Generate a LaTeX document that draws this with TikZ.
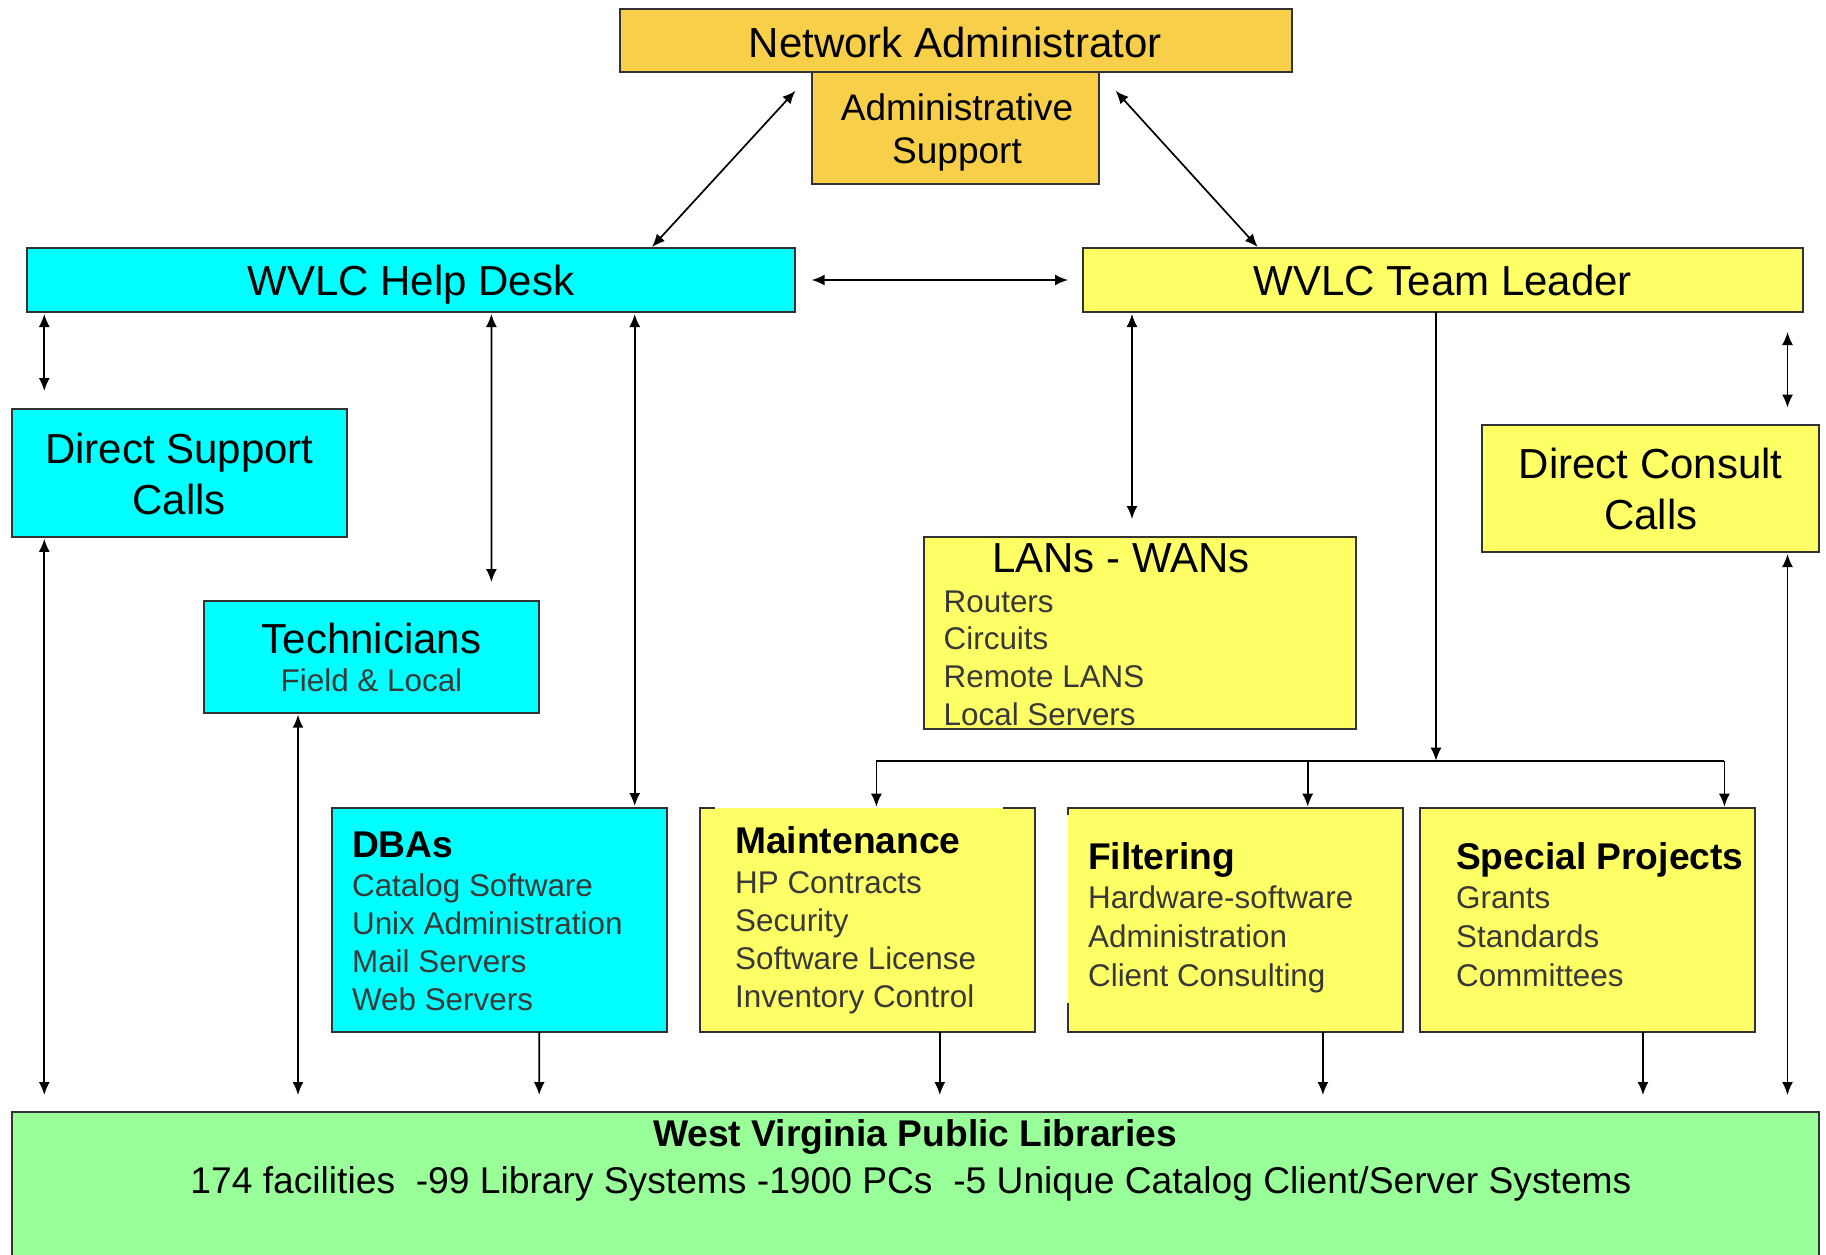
\documentclass[tikz,border=0pt]{standalone}
\usepackage{fontspec}
\setmainfont{Liberation Sans}
\usetikzlibrary{arrows.meta,calc}
\definecolor{gold}{HTML}{F7CF48}
\definecolor{cyanbox}{HTML}{00FFFF}
\definecolor{ylw}{HTML}{FFFF66}
\definecolor{grn}{HTML}{99FF99}
\definecolor{bord}{HTML}{333333}
\newcommand\fhead{\fontsize{21}{25}\selectfont}
\newcommand\fadm{\fontsize{18.5}{22}\selectfont}
\newcommand\fsub{\fontsize{15.7}{19}\selectfont\color{black!78}}
\newcommand\fbh{\fontsize{18.6}{22}\selectfont\bfseries}
\newcommand\flib{\fontsize{18.6}{22}\selectfont}
\newcommand\mybox[7]{% name, fill, x1,y1,x2,y2, extra
\node[bx, fill=#2, minimum width={(#5-#3)*0.5pt}, minimum height={(#6-#4)*0.5pt}, #7] (#1) at ({(#3+#5)/2},{(#4+#6)/2}) {};}
\tikzset{
  bx/.style={rectangle, draw=bord, line width=1pt, inner sep=0pt, outer sep=0pt},
  bline/.style={draw=bord, line width=1pt},
  tc/.style={inner sep=0pt, anchor=base},
  tl/.style={inner sep=0pt, anchor=base west},
  cline/.style={line width=0.85pt, black},
  arr/.style={cline, -{Latex[length=6.5pt,width=5.5pt]}},
  dbl/.style={cline, {Latex[length=6.5pt,width=5.5pt]}-{Latex[length=6.5pt,width=5.5pt]}},
}
\begin{document}
\begin{tikzpicture}[x=0.5pt,y=-0.5pt]
\useasboundingbox (0,0) rectangle (1826,1254);
\fill[white] (0,0) rectangle (1826,1254);
% boxes
\mybox{na}{gold}{619.5}{9.3}{1291.5}{72.2}{}
\mybox{as}{gold}{811.7}{72.2}{1099.3}{184}{}
\mybox{hd}{cyanbox}{26.8}{248}{795.4}{312}{}
\mybox{tlb}{ylw}{1083}{248}{1802.7}{312}{}
\mybox{ds}{cyanbox}{11.6}{408.7}{347}{536.8}{}
\mybox{tcb}{cyanbox}{203.8}{601}{539.2}{712.7}{}
\mybox{ln}{ylw}{923.5}{536.8}{1355.5}{729}{}
\mybox{dc}{ylw}{1482.4}{425}{1819}{552}{}
\mybox{db}{cyanbox}{331.9}{808}{667.3}{1031.8}{}
\mybox{mt}{ylw}{700}{808}{1035.3}{1031.8}{draw=none}
\mybox{ft}{ylw}{1067.9}{808}{1403.3}{1031.8}{draw=none}
\mybox{sp}{ylw}{1419.6}{808}{1755}{1031.8}{}
\mybox{lib}{grn}{11.6}{1112}{1819}{1270}{}
% partial borders
\draw[bline] ($(mt.north west)+(14.5,0)$) -- (mt.north west) -- (mt.south west) -- (mt.south east) -- (mt.north east) -- ($(mt.north east)+(-32,0)$);
\draw[bline] ($(ft.north west)+(0,7)$) -- (ft.north west) -- (ft.north east) -- (ft.south east) -- (ft.south west) -- ($(ft.south west)+(0,-29)$);
% texts
\node[tc,font=\fhead] (tna) at (955.5,57) {Network Administrator};
\node[tc,font=\fadm] (tas1) at (957,120) {Administrative};
\node[tc,font=\fadm] (tas2) at (957,163) {Support};
\node[tc,font=\fhead] (thd) at (411,295.6) {WVLC Help Desk};
\node[tc,font=\fhead] (ttl) at (1442.9,295.6) {WVLC Team Leader};
\node[tc,font=\fhead] (tds1) at (179.3,463) {Direct Support};
\node[tc,font=\fhead] (tds2) at (179.3,514.6) {Calls};
\node[tc,font=\fhead] (ttc1) at (371.5,653) {Technicians};
\node[tc,font=\fsub] (ttc2) at (371.5,691) {Field \& Local};
\node[tc,font=\fhead] (tln) at (1120.8,572.8) {LANs - WANs};
\foreach \t [count=\i] in {Routers, Circuits, Remote LANS, Local Servers}
  \node[tl,font=\fsub] (tln\i) at (943.3,{612+37.7*(\i-1)}) {\t};
\node[tc,font=\fhead] (tdc1) at (1650.7,478.5) {Direct Consult};
\node[tc,font=\fhead] (tdc2) at (1650.7,529.7) {Calls};
\node[tl,font=\fbh] (tdb) at (351.7,857) {DBAs};
\foreach \t [count=\i] in {Catalog Software, Unix Administration, Mail Servers, Web Servers}
  \node[tl,font=\fsub] (tdb\i) at (351.7,{896+38.3*(\i-1)}) {\t};
\node[tl,font=\fbh] (tmt) at (734.8,853) {Maintenance};
\foreach \t [count=\i] in {HP Contracts, Security, Software License, Inventory Control}
  \node[tl,font=\fsub] (tmt\i) at (734.8,{893+38.3*(\i-1)}) {\t};
\node[tl,font=\fbh] (tft) at (1087.7,869) {Filtering};
\foreach \t [count=\i] in {Hardware-software, Administration, Client Consulting}
  \node[tl,font=\fsub] (tft\i) at (1087.7,{908+39*(\i-1)}) {\t};
\node[tl,font=\fbh] (tsp) at (1455.7,869) {Special Projects};
\foreach \t [count=\i] in {Grants, Standards, Committees}
  \node[tl,font=\fsub] (tsp\i) at (1455.7,{908+39*(\i-1)}) {\t};
\node[tc,font=\flib\bfseries] (tlib1) at (915,1146) {West Virginia Public Libraries};
\node[tc,font=\flib] (tlib2) at (911,1193) {174 facilities\ \ -99 Library Systems -1900 PCs\ \ -5 Unique Catalog Client/Server Systems};
% connectors
\draw[dbl] ($(na.south west)+(175.9,18.6)$) -- ($(hd.north west)+(625.2,-1)$);
\draw[dbl] ($(as.north east)+(16.3,18.6)$) -- ($(tlb.north west)+(174.7,-1)$);
\draw[dbl] ($(hd.east)+(16.3,0)$) -- ($(tlb.west)+(-15,0)$);
\draw[dbl] ($(hd.south west)+(17.5,2)$) -- ($(ds.north west)+(32.7,-17.7)$);
\draw[dbl] ($(hd.south west)+(464.6,2)$) -- ($(tcb.north west)+(287.6,-19)$);
\draw[dbl] ($(hd.south west)+(607.9,2)$) -- ($(db.north west)+(302.8,-2)$);
\draw[dbl] ($(ds.south west)+(32.7,2)$) -- ($(lib.north west)+(32.7,-17)$);
\draw[dbl] ($(tcb.south west)+(94.2,2)$) -- ($(lib.north west)+(286.4,-17)$);
\draw[arr] ($(db.south west)+(207.3,0)$) -- ($(lib.north west)+(527.6,-17)$);
\draw[arr] ($(mt.south west)+(239.8,0)$) -- ($(lib.north west)+(928.2,-17)$);
\draw[arr] ($(ft.south west)+(255,0)$) -- ($(lib.north west)+(1311.3,-17)$);
\draw[arr] ($(sp.south west)+(223.4,0)$) -- ($(lib.north west)+(1631.4,-17)$);
\draw[dbl] ($(dc.south west)+(305.1,2)$) -- ($(lib.north west)+(1775.9,-17)$);
\draw[dbl] ($(tlb.south west)+(704.5,20)$) -- ($(dc.north west)+(305.1,-17.4)$);
\draw[dbl] ($(tlb.south west)+(49,2)$) -- ($(ln.north west)+(208.5,-17.8)$);
% bus
\coordinate (busL) at (876.4,760.7);
\coordinate (busC) at (1307.7,760.7);
\coordinate (busR) at (1724.4,760.7);
\coordinate (busT) at (1436,760.7);
\draw[arr] (tlb.south -| busT) -- (busT);
\draw[cline] (busL) -- (busR);
\draw[arr] (busL) -- ($(busL |- mt.north)+(0,-1.3)$);
\draw[arr] (busC) -- ($(busC |- ft.north)+(0,-1.3)$);
\draw[arr] (busR) -- ($(busR |- sp.north)+(0,-1.3)$);
\end{tikzpicture}
\end{document}
